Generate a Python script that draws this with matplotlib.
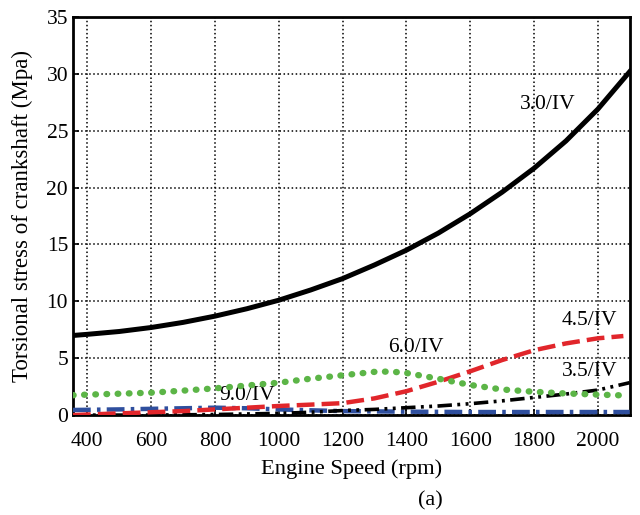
import matplotlib.pyplot as plt

plt.rcParams['font.family'] = ['Liberation Serif', 'DejaVu Serif']
plt.rcParams['font.size'] = 15.5

# 扭转应力 vs 转速
rpm_30 = [355, 400, 500, 600, 700, 800, 900, 1000, 1100, 1200, 1300, 1400, 1500, 1600, 1700, 1800, 1900, 2000, 2100]
stress_30 = [7.0, 7.1, 7.35, 7.7, 8.15, 8.7, 9.35, 10.1, 11.0, 12.0, 13.2, 14.5, 16.0, 17.7, 19.6, 21.7, 24.1, 26.9, 30.2]

rpm_45 = [355, 400, 500, 600, 700, 800, 900, 1000, 1100, 1200, 1300, 1400, 1500, 1600, 1700, 1800, 1900, 2000, 2080]
stress_45 = [0.0, 0.05, 0.15, 0.25, 0.35, 0.5, 0.65, 0.8, 0.92, 1.05, 1.47, 2.1, 2.93, 3.85, 4.84, 5.7, 6.3, 6.75, 6.95]

rpm_35 = [355, 600, 800, 1000, 1100, 1200, 1300, 1400, 1500, 1600, 1700, 1800, 1900, 2000, 2100]
stress_35 = [0.0, 0.0, 0.05, 0.15, 0.25, 0.4, 0.5, 0.65, 0.8, 1.0, 1.25, 1.55, 1.85, 2.2, 2.85]

rpm_60 = [355, 400, 500, 600, 700, 800, 900, 1000, 1100, 1200, 1300, 1350, 1400, 1500, 1600, 1700, 1800, 1900, 2000, 2080]
stress_60 = [1.75, 1.8, 1.88, 1.97, 2.15, 2.35, 2.6, 2.85, 3.2, 3.5, 3.8, 3.83, 3.7, 3.2, 2.65, 2.25, 2.05, 1.9, 1.8, 1.73]

rpm_90 = [355, 500, 700, 800, 900, 1000, 1100, 1200, 1400, 1600, 1800, 2000, 2100]
stress_90 = [0.45, 0.5, 0.6, 0.65, 0.6, 0.5, 0.42, 0.35, 0.3, 0.27, 0.27, 0.27, 0.27]

fig = plt.figure(figsize=(6.4, 5.15), dpi=100)
ax = fig.add_axes([0.114, 0.194, 0.87, 0.773])

ax.plot(rpm_90, stress_90, color='#2f4f9e', lw=3.2, linestyle=(0, (4, 1.4, 0.8, 1.4)), zorder=3)
ax.plot(rpm_35, stress_35, color='black', lw=2.6, linestyle=(0, (4, 1.5, 0.8, 1.5, 0.8, 1.5)), zorder=4)
ax.plot(rpm_45, stress_45, color='#e1262b', lw=3.2, linestyle=(0, (4, 1.6)), zorder=5)
ax.plot(rpm_60, stress_60, color='#5cb547', lw=4.6, linestyle=(0, (0.1, 1.65)),
        dash_capstyle='round', zorder=6)
ax.plot(rpm_30, stress_30, color='black', lw=3.6, zorder=7)

# 曲线标注
ax.text(1843, 27.3, '3.0/IV', ha='center', va='center')
ax.text(1975, 8.36, '4.5/IV', ha='center', va='center')
ax.text(1975, 3.87, '3.5/IV', ha='center', va='center')
ax.text(1430, 5.9, '6.0/IV', ha='center', va='center')
ax.text(901, 1.76, '9.0/IV', ha='center', va='center')

ax.set_xlim(355, 2100)
ax.set_ylim(0, 35)
ax.set_xticks(range(400, 2001, 200))
ax.set_yticks(range(0, 36, 5))
ax.grid(True, color='black', linestyle=':', linewidth=1.1)
ax.tick_params(direction='in', length=4, width=1.2)
ax.tick_params(axis='x', pad=12)

for s in ax.spines.values():
    s.set_linewidth(2)

ax.set_xlabel('Engine Speed (rpm)', fontsize=16.2, labelpad=6)
ax.set_ylabel('Torsional stress of crankshaft (Mpa)', fontsize=16.5, labelpad=10)
fig.text(0.672, 0.028, '(a)', ha='center', va='center', fontsize=16)

plt.savefig('out.png', dpi=100)
